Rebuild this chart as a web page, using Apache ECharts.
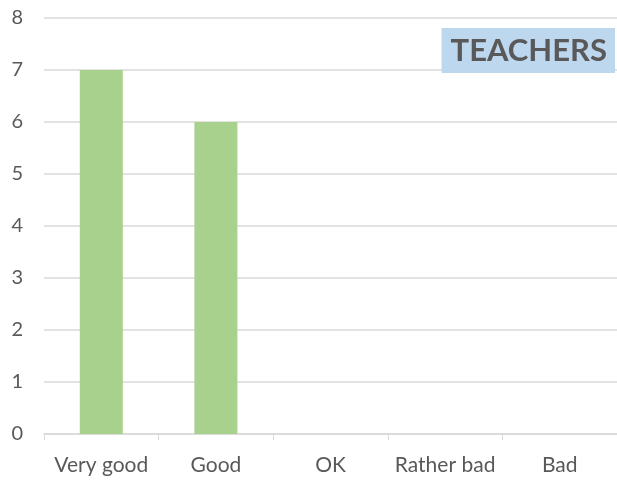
<!DOCTYPE html>
<html>
<head>
<meta charset="utf-8">
<script src="https://cdn.jsdelivr.net/npm/echarts@6/dist/echarts.min.js"></script>
<style>
  html, body { margin: 0; padding: 0; background: #fff; }
  #chart { width: 617px; height: 482px; }
</style>
</head>
<body>
<div id="chart"></div>
<script>
// ratings given to teachers
var categories = ['Very good', 'Good', 'OK', 'Rather bad', 'Bad'];
var counts = [7, 6, 0, 0, 0];
var yTicks = [0, 1, 2, 3, 4, 5, 6, 7, 8];

var chart = echarts.init(document.getElementById('chart'));

var option = {
  animation: false,
  title: {
    text: 'TEACHERS',
    right: 2,
    top: 28,
    backgroundColor: '#bdd7ee',
    padding: [7, 8, 7, 9],
    textStyle: {
      fontFamily: 'Lato',
      fontWeight: 'bold',
      fontSize: 31,
      color: '#595959'
    }
  },
  grid: {
    left: 44,
    right: -2,
    top: 18,
    bottom: 48,
    containLabel: false
  },
  xAxis: {
    type: 'category',
    data: categories,
    axisLine: { lineStyle: { color: '#d9d9d9', width: 1.5 } },
    axisTick: { show: true, length: 6, lineStyle: { color: '#d9d9d9' } },
    axisLabel: {
      interval: 0,
      color: '#595959',
      fontFamily: 'Lato',
      fontSize: 21,
      margin: 21
    }
  },
  yAxis: {
    type: 'value',
    min: yTicks[0],
    max: yTicks[yTicks.length - 1],
    interval: 1,
    axisLine: { show: false },
    axisTick: { show: false },
    axisLabel: {
      color: '#595959',
      fontFamily: 'Lato',
      fontSize: 20,
      margin: 21
    },
    splitLine: { lineStyle: { color: '#d9d9d9', width: 1.5 } }
  },
  series: [{
    type: 'bar',
    data: counts,
    barWidth: 43,
    itemStyle: {
      color: '#a9d18e'
    }
  }]
};

chart.setOption(option);
</script>
</body>
</html>
